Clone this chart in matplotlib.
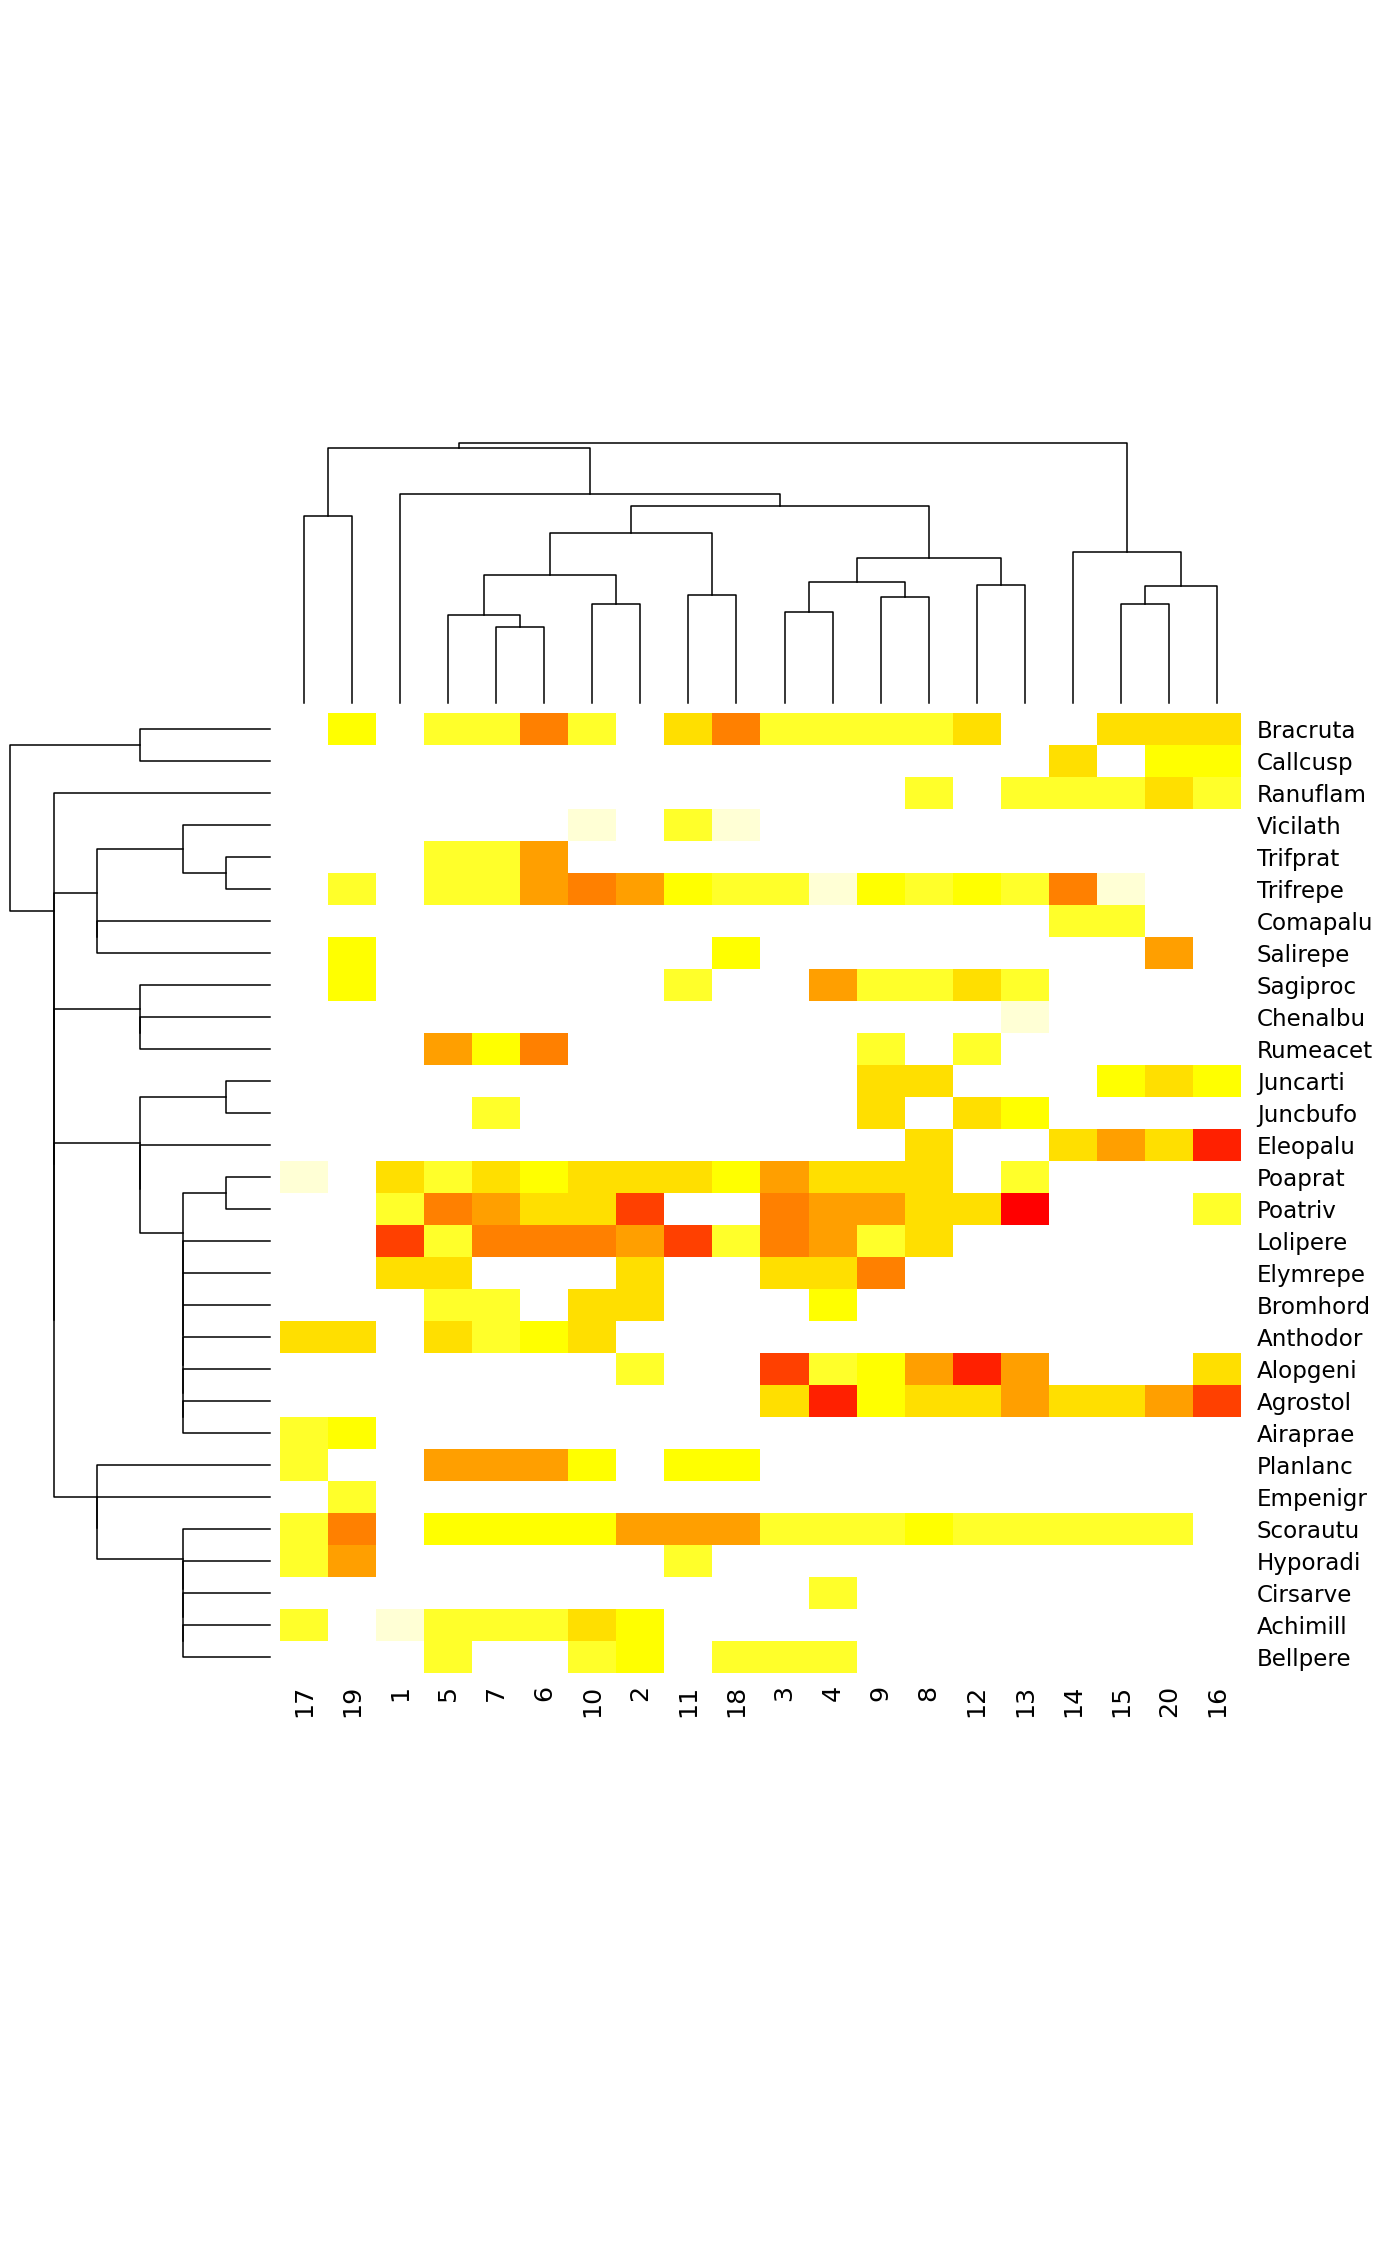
import numpy as np
import matplotlib
matplotlib.use("Agg")
import matplotlib.pyplot as plt
from matplotlib.colors import ListedColormap, BoundaryNorm

# column order as it comes out of the site dendrogram
sites = ["17", "19", "1", "5", "7", "6", "10", "2", "11", "18",
         "3", "4", "9", "8", "12", "13", "14", "15", "20", "16"]

# row order (top to bottom) as it comes out of the species dendrogram
species = ["Bracruta", "Callcusp", "Ranuflam", "Vicilath", "Trifprat",
           "Trifrepe", "Comapalu", "Salirepe", "Sagiproc", "Chenalbu",
           "Rumeacet", "Juncarti", "Juncbufo", "Eleopalu", "Poaprat",
           "Poatriv", "Lolipere", "Elymrepe", "Bromhord", "Anthodor",
           "Alopgeni", "Agrostol", "Airaprae", "Planlanc", "Empenigr",
           "Scorautu", "Hyporadi", "Cirsarve", "Achimill", "Bellpere"]

# cover class per species, sites in the order above (0 = absent)
cover = [
    # 17 19  1  5  7  6 10  2 11 18   3  4  9  8 12 13 14 15 20 16
    [0, 3, 0, 2, 2, 6, 2, 0, 4, 6,   2, 2, 2, 2, 4, 0, 0, 4, 4, 4],  # Bracruta
    [0, 0, 0, 0, 0, 0, 0, 0, 0, 0,   0, 0, 0, 0, 0, 0, 4, 0, 3, 3],  # Callcusp
    [0, 0, 0, 0, 0, 0, 0, 0, 0, 0,   0, 0, 0, 2, 0, 2, 2, 2, 4, 2],  # Ranuflam
    [0, 0, 0, 0, 0, 0, 1, 0, 2, 1,   0, 0, 0, 0, 0, 0, 0, 0, 0, 0],  # Vicilath
    [0, 0, 0, 2, 2, 5, 0, 0, 0, 0,   0, 0, 0, 0, 0, 0, 0, 0, 0, 0],  # Trifprat
    [0, 2, 0, 2, 2, 5, 6, 5, 3, 2,   2, 1, 3, 2, 3, 2, 6, 1, 0, 0],  # Trifrepe
    [0, 0, 0, 0, 0, 0, 0, 0, 0, 0,   0, 0, 0, 0, 0, 0, 2, 2, 0, 0],  # Comapalu
    [0, 3, 0, 0, 0, 0, 0, 0, 0, 3,   0, 0, 0, 0, 0, 0, 0, 0, 5, 0],  # Salirepe
    [0, 3, 0, 0, 0, 0, 0, 0, 2, 0,   0, 5, 2, 2, 4, 2, 0, 0, 0, 0],  # Sagiproc
    [0, 0, 0, 0, 0, 0, 0, 0, 0, 0,   0, 0, 0, 0, 0, 1, 0, 0, 0, 0],  # Chenalbu
    [0, 0, 0, 5, 3, 6, 0, 0, 0, 0,   0, 0, 2, 0, 2, 0, 0, 0, 0, 0],  # Rumeacet
    [0, 0, 0, 0, 0, 0, 0, 0, 0, 0,   0, 0, 4, 4, 0, 0, 0, 3, 4, 3],  # Juncarti
    [0, 0, 0, 0, 2, 0, 0, 0, 0, 0,   0, 0, 4, 0, 4, 3, 0, 0, 0, 0],  # Juncbufo
    [0, 0, 0, 0, 0, 0, 0, 0, 0, 0,   0, 0, 0, 4, 0, 0, 4, 5, 4, 8],  # Eleopalu
    [1, 0, 4, 2, 4, 3, 4, 4, 4, 3,   5, 4, 4, 4, 0, 2, 0, 0, 0, 0],  # Poaprat
    [0, 0, 2, 6, 5, 4, 4, 7, 0, 0,   6, 5, 5, 4, 4, 9, 0, 0, 0, 2],  # Poatriv
    [0, 0, 7, 2, 6, 6, 6, 5, 7, 2,   6, 5, 2, 4, 0, 0, 0, 0, 0, 0],  # Lolipere
    [0, 0, 4, 4, 0, 0, 0, 4, 0, 0,   4, 4, 6, 0, 0, 0, 0, 0, 0, 0],  # Elymrepe
    [0, 0, 0, 2, 2, 0, 4, 4, 0, 0,   0, 3, 0, 0, 0, 0, 0, 0, 0, 0],  # Bromhord
    [4, 4, 0, 4, 2, 3, 4, 0, 0, 0,   0, 0, 0, 0, 0, 0, 0, 0, 0, 0],  # Anthodor
    [0, 0, 0, 0, 0, 0, 0, 2, 0, 0,   7, 2, 3, 5, 8, 5, 0, 0, 0, 4],  # Alopgeni
    [0, 0, 0, 0, 0, 0, 0, 0, 0, 0,   4, 8, 3, 4, 4, 5, 4, 4, 5, 7],  # Agrostol
    [2, 3, 0, 0, 0, 0, 0, 0, 0, 0,   0, 0, 0, 0, 0, 0, 0, 0, 0, 0],  # Airaprae
    [2, 0, 0, 5, 5, 5, 3, 0, 3, 3,   0, 0, 0, 0, 0, 0, 0, 0, 0, 0],  # Planlanc
    [0, 2, 0, 0, 0, 0, 0, 0, 0, 0,   0, 0, 0, 0, 0, 0, 0, 0, 0, 0],  # Empenigr
    [2, 6, 0, 3, 3, 3, 3, 5, 5, 5,   2, 2, 2, 3, 2, 2, 2, 2, 2, 0],  # Scorautu
    [2, 5, 0, 0, 0, 0, 0, 0, 2, 0,   0, 0, 0, 0, 0, 0, 0, 0, 0, 0],  # Hyporadi
    [0, 0, 0, 0, 0, 0, 0, 0, 0, 0,   0, 2, 0, 0, 0, 0, 0, 0, 0, 0],  # Cirsarve
    [2, 0, 1, 2, 2, 2, 4, 3, 0, 0,   0, 0, 0, 0, 0, 0, 0, 0, 0, 0],  # Achimill
    [0, 0, 0, 2, 0, 0, 2, 3, 0, 2,   2, 2, 0, 0, 0, 0, 0, 0, 0, 0],  # Bellpere
]

# colour per cover class 1..9
class_colors = ["#FFFFD5", "#FFFF2A", "#FFFF00", "#FFDF00", "#FF9F00",
                "#FF8000", "#FF4000", "#FF2000", "#FF0000"]

# dendrograms: (merge height, left, right), leaves are display positions
col_tree = (780,
            (765, (562, 0, 1),
             (627, 2,
              (590,
               (511, (383, (263, 3, (227, 4, 5)), (295, 6, 7)), (322, 8, 9)),
               (433, (363, (271, 10, 11), (316, 12, 13)), (353, 14, 15))))),
            (452, 16, (350, (296, 17, 18), 19)))

poa_group = (2, (1, 14, 15),
             (2, 16, (2, 17, (2, 18, (2, 19, (2, 20, (2, 21, 22)))))))
scor_group = (2, 25, (2, 26, (2, 27, (2, 28, 29))))
grp_a = (4, (2, 3, (1, 4, 5)), (4, 6, 7))
grp_b = (3, 8, (3, 9, 10))
grp_c = (3, (1, 11, 12), (3, 13, poa_group))
grp_d = (4, 23, (4, 24, scor_group))
row_tree = (6, (3, 0, 1), (5, 2, (5, grp_a, (5, grp_b, (5, grp_c, grp_d)))))


def draw_tree(ax, node, horiz=False):
    if isinstance(node, int):
        return node, 0
    h, left, right = node
    pl, hl = draw_tree(ax, left, horiz)
    pr, hr = draw_tree(ax, right, horiz)
    pos = [pl, pl, pr, pr]
    hts = [hl, h, h, hr]
    if horiz:
        ax.plot(hts, pos, color="black", lw=1.1)
    else:
        ax.plot(pos, hts, color="black", lw=1.1)
    return (pl + pr) / 2, h


W, H = 1400, 2266
fig = plt.figure(figsize=(W / 100, H / 100), dpi=100)

# pixel boxes (left, top, right, bottom)
heat_box = (280, 713, 1241, 1673)
col_box = (280, 432.6, 1241, 713)
row_box = (0, 713, 280, 1673)


def add_ax(box):
    l, t, r, b = box
    return fig.add_axes([l / W, 1 - b / H, (r - l) / W, (b - t) / H])


ax = add_ax(heat_box)
data = np.ma.masked_equal(np.array(cover), 0)
cmap = ListedColormap(class_colors)
norm = BoundaryNorm(np.arange(0.5, 10.5, 1), cmap.N)
ax.pcolormesh(np.arange(len(sites) + 1) - 0.5, np.arange(len(species) + 1) - 0.5,
              data, cmap=cmap, norm=norm)
ax.set_xlim(-0.5, len(sites) - 0.5)
ax.set_ylim(len(species) - 0.5, -0.5)
ax.set_xticks(range(len(sites)))
ax.set_xticklabels(sites, rotation=90, fontsize=18.3)
ax.set_yticks(range(len(species)))
ax.set_yticklabels(species, fontsize=16.6)
ax.yaxis.tick_right()
ax.tick_params(axis="x", length=0, pad=8.6)
ax.tick_params(axis="y", length=0, pad=11.5)
for s in ax.spines.values():
    s.set_visible(False)

axc = add_ax(col_box)
draw_tree(axc, col_tree)
hmax = col_tree[0]
axc.set_xlim(-0.5, len(sites) - 0.5)
axc.set_ylim(-0.04 * hmax, 1.04 * hmax)
axc.axis("off")

axr = add_ax(row_box)
draw_tree(axr, row_tree, horiz=True)
rmax = row_tree[0]
axr.set_xlim(1.04 * rmax, -0.04 * rmax)
axr.set_ylim(len(species) - 0.5, -0.5)
axr.axis("off")

fig.savefig("out.png", dpi=100, facecolor="white")
